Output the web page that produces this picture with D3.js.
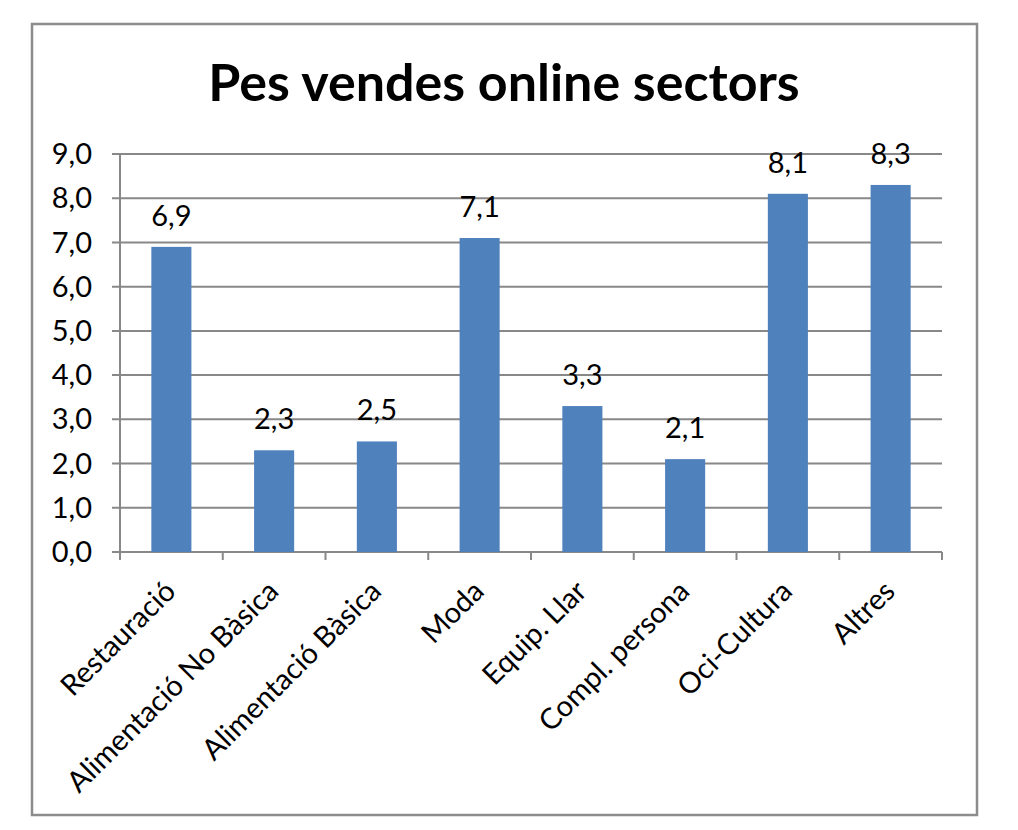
<!DOCTYPE html>
<html>
<head>
<meta charset="utf-8">
<script src="https://cdn.jsdelivr.net/npm/d3@7"></script>
<style>
  body { margin: 0; background: #fff; }
  text { font-family: Lato, "Open Sans", sans-serif; fill: #000; }
</style>
</head>
<body>
<svg id="chart" width="1018" height="830"></svg>
<script>
var categories = [
  "Restauració",
  "Alimentació No Bàsica",
  "Alimentació Bàsica",
  "Moda",
  "Equip. Llar",
  "Compl. persona",
  "Oci-Cultura",
  "Altres",
];
var values = [6.9, 2.3, 2.5, 7.1, 3.3, 2.1, 8.1, 8.3];
var yTicks = [0, 1, 2, 3, 4, 5, 6, 7, 8, 9];
var title = "Pes vendes online sectors";

var svg = d3.select("#chart");

var plotLeft = 120,
  plotRight = 942,
  plotTop = 154,
  plotBottom = 552;

var fmt = function (v) {
  return d3.format(".1f")(v).replace(".", ",");
};

// marc exterior
svg
  .append("rect")
  .attr("x", 32)
  .attr("y", 24)
  .attr("width", 945)
  .attr("height", 791)
  .style("fill", "#fff")
  .style("stroke", "#8c8c8c")
  .style("stroke-width", 2.5);

svg
  .append("text")
  .attr("x", 504)
  .attr("y", 101)
  .attr("text-anchor", "middle")
  .style("font-size", "52px")
  .style("font-weight", "bold")
  .text(title);

var x = d3.scaleBand().domain(categories).range([plotLeft, plotRight]);
var y = d3.scaleLinear().domain([0, 9]).range([plotBottom, plotTop]);

// graella
svg
  .selectAll(".grid")
  .data(yTicks)
  .enter()
  .append("line")
  .attr("class", "grid")
  .attr("x1", plotLeft - 8)
  .attr("x2", plotRight)
  .attr("y1", function (d) {
    return y(d);
  })
  .attr("y2", function (d) {
    return y(d);
  })
  .style("stroke", "#888")
  .style("stroke-width", 2);

svg
  .selectAll(".ylab")
  .data(yTicks)
  .enter()
  .append("text")
  .attr("class", "ylab")
  .attr("x", plotLeft - 28)
  .attr("y", function (d) {
    return y(d);
  })
  .attr("dy", "0.35em")
  .attr("text-anchor", "end")
  .style("font-size", "29px")
  .text(fmt);

// eix vertical
svg
  .append("line")
  .attr("x1", plotLeft)
  .attr("x2", plotLeft)
  .attr("y1", plotTop)
  .attr("y2", plotBottom)
  .style("stroke", "#888")
  .style("stroke-width", 2);

// ticks eix x
var xEdges = categories.map(function (c) {
  return x(c);
});
xEdges.push(plotRight);

svg
  .selectAll(".xtick")
  .data(xEdges)
  .enter()
  .append("line")
  .attr("class", "xtick")
  .attr("x1", function (d) {
    return d;
  })
  .attr("x2", function (d) {
    return d;
  })
  .attr("y1", plotBottom)
  .attr("y2", plotBottom + 8)
  .style("stroke", "#888")
  .style("stroke-width", 2);

var barW = x.bandwidth() * 0.39;

svg
  .selectAll(".bar")
  .data(values)
  .enter()
  .append("rect")
  .attr("class", "bar")
  .attr("x", function (d, i) {
    return x(categories[i]) + x.bandwidth() / 2 - barW / 2;
  })
  .attr("y", function (d) {
    return y(d);
  })
  .attr("width", barW)
  .attr("height", function (d) {
    return plotBottom - y(d);
  })
  .style("fill", "#4f81bd");

svg
  .selectAll(".vlab")
  .data(values)
  .enter()
  .append("text")
  .attr("class", "vlab")
  .attr("x", function (d, i) {
    return x(categories[i]) + x.bandwidth() / 2;
  })
  .attr("y", function (d) {
    return y(d) - 21;
  })
  .attr("text-anchor", "middle")
  .style("font-size", "29px")
  .text(fmt);

svg
  .selectAll(".xlab")
  .data(categories)
  .enter()
  .append("text")
  .attr("class", "xlab")
  .attr("transform", function (d) {
    return "translate(" + (x(d) + x.bandwidth() / 2 + 6) + "," + (plotBottom + 41) + ") rotate(-45)";
  })
  .attr("text-anchor", "end")
  .style("font-size", "29px")
  .text(function (d) {
    return d;
  });
</script>
</body>
</html>
